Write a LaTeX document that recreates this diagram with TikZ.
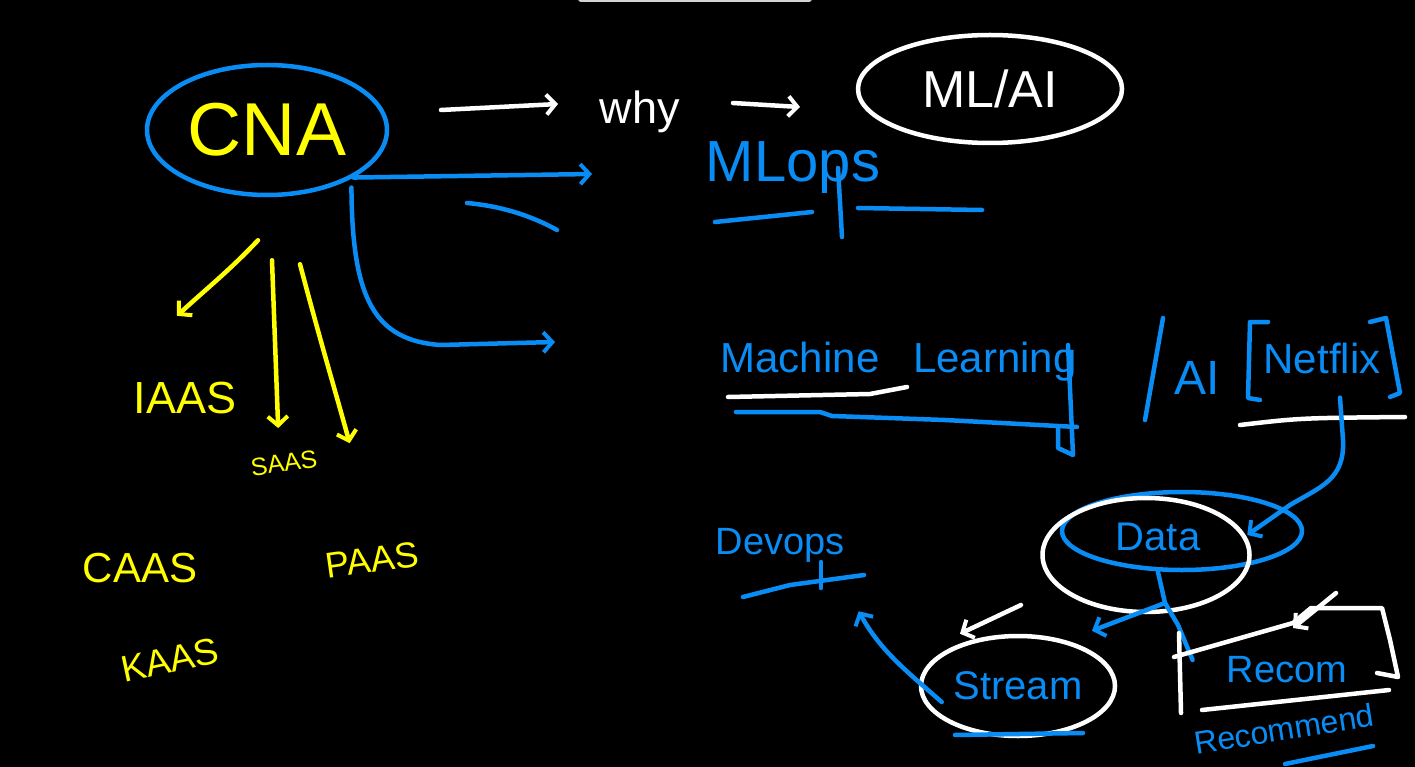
\documentclass[tikz,border=0pt]{standalone}
\usepackage{fontspec}
\setmainfont{Liberation Sans}
\usetikzlibrary{positioning, shapes.geometric, arrows.meta, calc}
\usepackage{xcolor}
\definecolor{wbblack}{HTML}{000000}
\definecolor{wbblue}{HTML}{0A8CF5}
\definecolor{wbyellow}{HTML}{FFFF00}
\definecolor{wbwhite}{HTML}{FFFFFF}
\definecolor{wbgrey}{HTML}{D2D2D2}
\newcommand{\wbsize}[1]{\fontsize{#1}{#1}\selectfont}

\begin{document}
\begin{tikzpicture}[x=1pt, y=-1pt, line width=4.5pt, line cap=round, line join=round,
    >={Straight Barb[length=9pt, width=20pt, line width=4pt]},
    bline/.style={draw=wbblue},
    wline/.style={draw=wbwhite},
    yline/.style={draw=wbyellow},
    btext/.style={text=wbblue, inner sep=2pt},
    ytext/.style={text=wbyellow, inner sep=2pt}]
  \fill[wbblack] (0,0) rectangle (1415,767);
  \useasboundingbox (0,0) rectangle (1415,767);
  \fill[wbgrey, rounded corners=3pt] (578,-5) rectangle (812,2);

  \node[ellipse, draw=wbblue, text=wbyellow, font=\wbsize{75},
        minimum width=240pt, minimum height=130pt, inner sep=0pt] (cna) at (267,130) {CNA};
  \node[text=wbwhite, font=\wbsize{45}] (why) at (640,112) {why};
  \node[ellipse, draw=wbwhite, text=wbwhite, font=\wbsize{52},
        minimum width=264pt, minimum height=108pt] (mlai) at (990,89) {ML/AI};
  \node[btext, font=\wbsize{58}] (mlops) at (793,168) {MLops};

  \node[ytext, font=\wbsize{45}] (iaas) at (185,398) {IAAS};
  \node[ytext, font=\wbsize{25}, rotate=8] (saas) at (284,463) {SAAS};
  \node[ytext, font=\wbsize{36}, rotate=8] (paas) at (372,560) {PAAS};
  \node[ytext, font=\wbsize{42}] (caas) at (140,568) {CAAS};
  \node[ytext, font=\wbsize{37}, rotate=12] (kaas) at (170,660) {KAAS};

  \node[btext, font=\wbsize{42}] (machine) at (800,357) {Machine};
  \node[btext, font=\wbsize{42}] (learning) at (995,362) {Learning};
  \node[btext, font=\wbsize{48}] (ai) at (1197,378) {AI};
  \node[btext, font=\wbsize{42}] (netflix) at (1322,358) {Netflix};

  \node[ellipse, draw=wbblue, minimum width=240pt, minimum height=78pt] (dataring) at (1182,531) {};
  \node[ellipse, draw=wbwhite, minimum width=207pt, minimum height=114pt] (dataloop) at (1146,555) {};
  \node[btext, font=\wbsize{40}] (data) at (1158,537) {Data};
  \node[ellipse, draw=wbwhite, text=wbblue, font=\wbsize{40},
        minimum width=194pt, minimum height=100pt] (stream) at (1018,686) {Stream};
  \node[btext, font=\wbsize{38}] (devops) at (780,545) {Devops};
  \node[btext, font=\wbsize{38}] (recom) at (1287,670) {Recom};
  \node[btext, font=\wbsize{32}, rotate=9, inner sep=0pt] (recommend) at (1284,729) {Recommend};

  \coordinate (whytail) at (441,110);
  \coordinate (whyhead) at (558,104);
  \coordinate (mlaitail) at (733,103);
  \coordinate (mlaihead) at (800,107);
  \coordinate (mlopshead) at (592,174);
  \coordinate (lowhead) at (555,342);
  \coordinate (split) at (1165,603);
  \coordinate (recomtail) at (1336,593);
  \coordinate (streamtail) at (1021,605);

  \draw[wline, ->] (whytail) -- (whyhead);
  \draw[wline, ->] (mlaitail) -- (mlaihead);
  \draw[bline, ->] (cna.south east) -- (mlopshead);
  \draw[bline] (467,203) .. controls (500,206) and (530,215) .. (557,230);
  \draw[bline, ->] ($(cna.south east)+(-2,10)$) .. controls (352,300) and (375,340) .. (440,345) -- (lowhead);

  \draw[yline, ->] ($(cna.south)+(-9,43)$) .. controls (230,270) and (205,290) .. ($(iaas.north)+(-8,-62)$);
  \draw[yline, ->] ($(cna.south)+(5,63)$) -- ($(saas.north)+(-4,-22)$);
  \draw[yline, ->] ($(cna.south)+(33,67)$) .. controls (320,340) and (335,390) .. ($(paas.north)+(-20,-100)$);

  \draw[bline] (715,222) -- (812,212);
  \draw[bline] (858,208) -- (982,210);
  \draw[bline] (838,168) -- (842,237);

  \draw[wline] (728,397) -- (870,394) -- (907,387);
  \draw[bline] (736,412) -- (820,412) -- (832,416) -- (945,420) -- (1077,427);
  \draw[bline] (1068,345) -- (1073,455) -- (1058,448) -- (1058,428);
  \draw[bline] (1145,420) -- (1163,318);
  \draw[bline] (1268,322) -- (1250,322) -- (1248,398) -- (1260,400);
  \draw[bline] (1370,322) -- (1386,318) -- (1400,393) -- (1390,397);
  \draw[wline] (1240,425) .. controls (1300,418) .. (1405,417);

  \draw[bline, ->] ($(netflix.south)+(18,20)$) -- (1343,440) .. controls (1345,480) and (1320,487) .. (1290,505) -- ($(dataring.east)+(-57,4)$);
  \draw[bline] (data.south |- dataring.south) -- (split);
  \draw[bline, ->] (split) -- ($(stream.north)+(74,-3)$);
  \draw[bline] (split) -- (1178,625) -- ($(recom.west)+(-30,-10)$);
  \draw[wline, ->] (streamtail) -- ($(stream.north)+(-58,0)$);
  \draw[bline, ->] ($(stream.west)+(23,16)$) .. controls (905,670) and (880,650) .. ($(devops.south east)+(10,45)$);

  \draw[bline] (743,597) -- (790,585) -- (864,575);
  \draw[bline] (821,562) -- (821,588);
  \draw[bline] (955,735) -- (1083,733);

  \draw[wline] (1179,633) -- (1181,713);
  \draw[wline] (1174,657) -- (1293,623) -- (1311,608) -- (1382,608) -- (1390,640) -- (1398,677) -- (1377,673);
  \draw[wline] (1202,710) -- (1389,690);
  \draw[wline, ->] (recomtail) -- (1293,628);
  \draw[bline] (1285,764) -- (1373,746);
\end{tikzpicture}
\end{document}
